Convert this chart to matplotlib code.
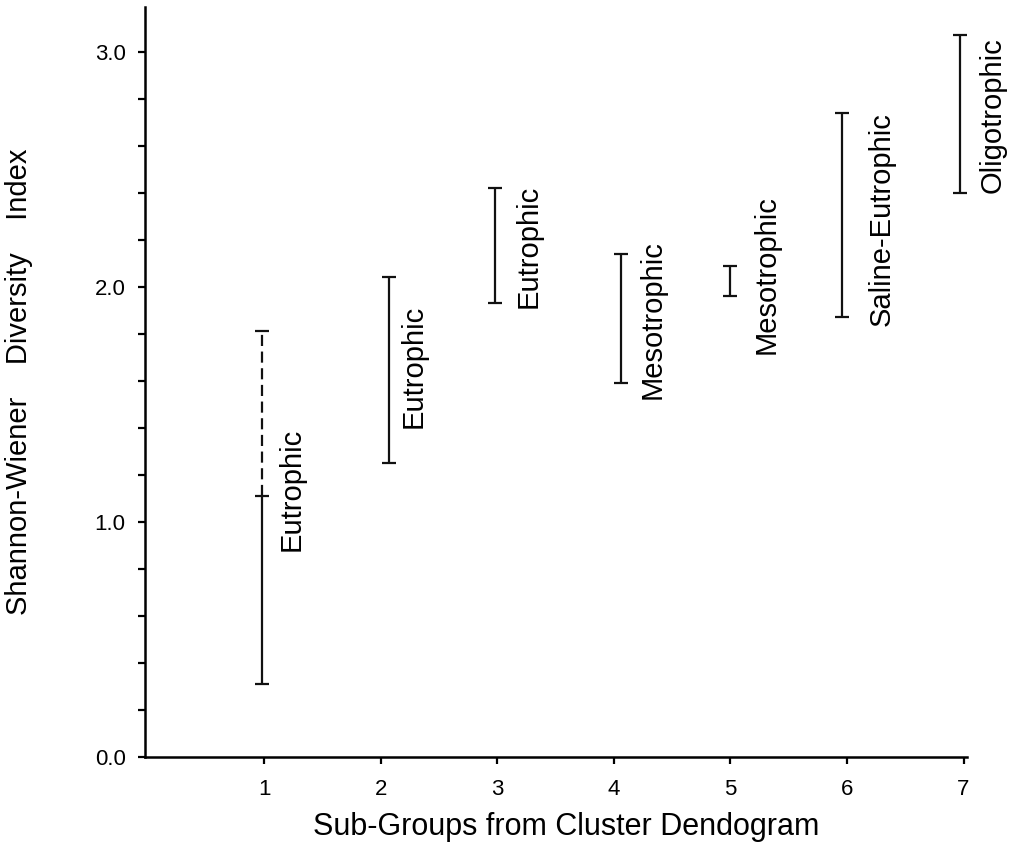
import matplotlib.pyplot as plt
from matplotlib.ticker import MultipleLocator
import numpy as np

plt.rcParams["font.family"] = ["Liberation Sans", "DejaVu Sans"]

# sub-groups and the diversity range of each
groups = [1, 2, 3, 4, 5, 6, 7]
bar_x = [0.98, 2.07, 2.98, 4.06, 5.00, 5.96, 6.97]
h_low = [0.31, 1.25, 1.93, 1.59, 1.96, 1.87, 2.40]
h_high = [1.11, 2.04, 2.42, 2.14, 2.09, 2.74, 3.07]
# group 1 has a dashed extension above the solid range
ext_x = [0.98]
ext_low = [1.11]
ext_high = [1.81]

labels = ["Eutrophic", "Eutrophic", "Eutrophic", "Mesotrophic",
          "Mesotrophic", "Saline-Eutrophic", "Oligotrophic"]
label_x = [1.23, 2.28, 3.27, 4.33, 5.31, 6.30, 7.25]
label_y = [1.14, 1.66, 2.17, 1.86, 2.05, 2.29, 2.73]

fig = plt.figure(figsize=(10.17, 8.51), dpi=100)
ax = fig.add_axes([145 / 1017, 1 - 757 / 851, (967 - 145) / 1017, (757 - 7) / 851])

lo = np.array(h_low)
hi = np.array(h_high)
ax.errorbar(bar_x, (lo + hi) / 2, yerr=(hi - lo) / 2, fmt="none",
            ecolor="#111111", elinewidth=1.6, capsize=5, capthick=1.6)

elo = np.array(ext_low)
ehi = np.array(ext_high)
eb = ax.errorbar(ext_x, ehi, yerr=[ehi - elo, np.zeros_like(ehi)], fmt="none",
                 ecolor="#111111", elinewidth=1.6, capsize=5, capthick=1.6)
eb[2][0].set_linestyle((0, (5, 2.5)))
eb[1][0].set_visible(False)

for x, y, t in zip(label_x, label_y, labels):
    ax.text(x, y, t, rotation=90, ha="center", va="center", fontsize=21)

ax.set_xlim(-0.025, 7.03)
ax.set_ylim(0, 3.19)
ax.set_xticks(groups)
ax.set_yticks([0, 1, 2, 3], ["0.0", "1.0", "2.0", "3.0"])
ax.yaxis.set_minor_locator(MultipleLocator(0.2))

ax.spines[["right", "top"]].set_visible(False)
ax.spines[["left", "bottom"]].set_linewidth(1.8)
ax.tick_params(which="both", direction="out", length=5, width=1.6, labelsize=16)
ax.tick_params(axis="x", pad=11)
ax.tick_params(axis="y", pad=9)

ax.set_xlabel("Sub-Groups from Cluster Dendogram", fontsize=22)
ax.xaxis.set_label_coords(0.513, -0.073)
ax.set_ylabel("Shannon-Wiener    Diversity    Index", fontsize=21)
ax.yaxis.set_label_coords(-0.136, 0.5)

fig.savefig("out.png", dpi=100)
